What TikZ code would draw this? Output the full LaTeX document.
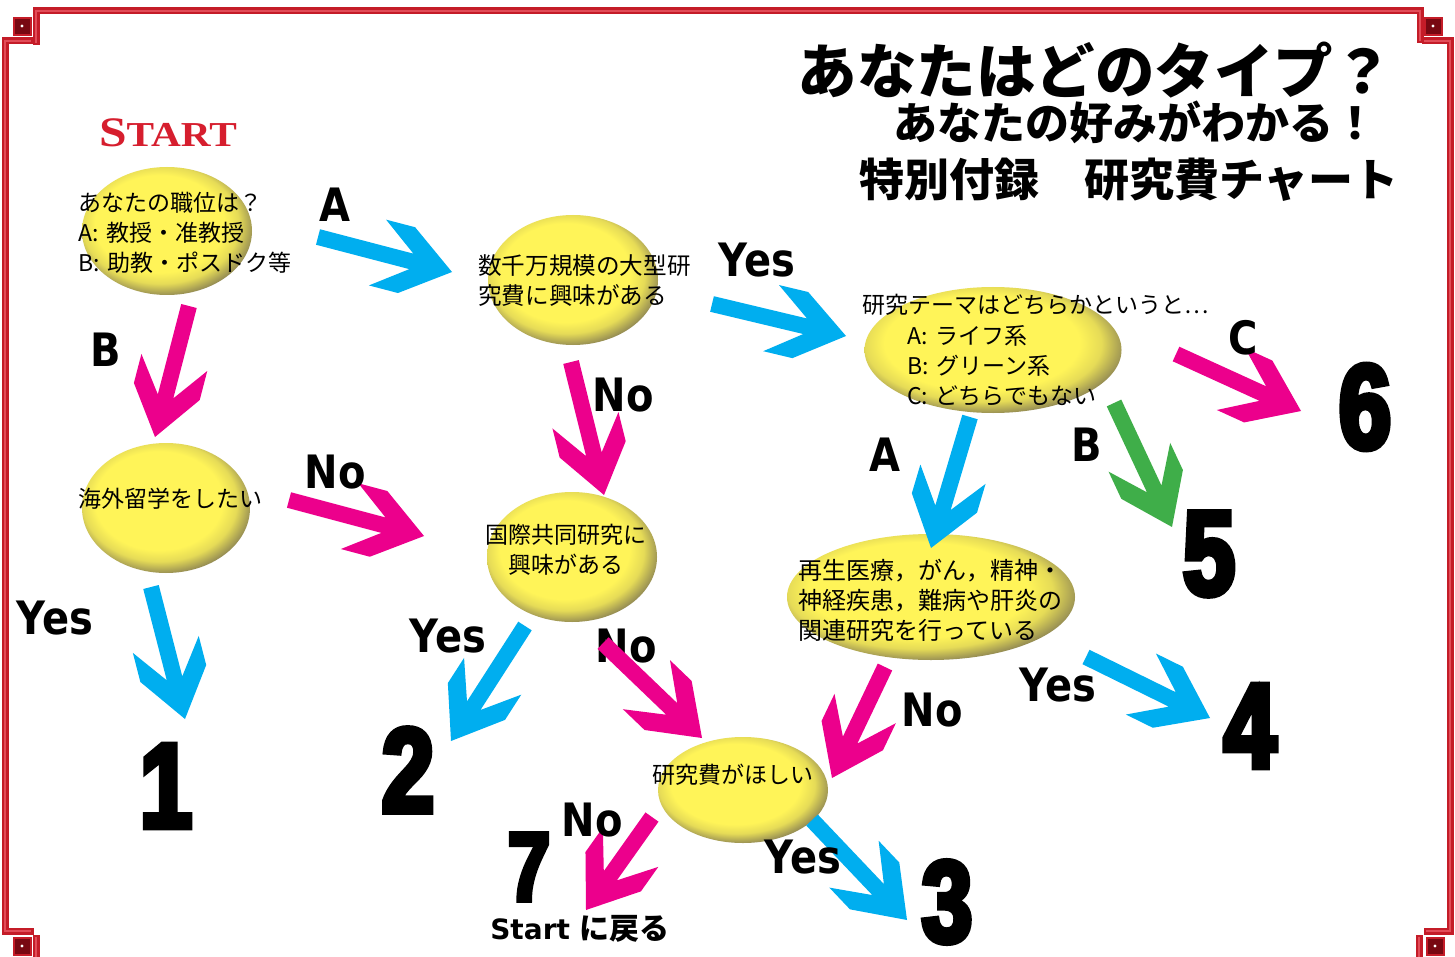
\documentclass[tikz,border=0pt]{standalone}
\usepackage{fontspec}
\newfontfamily\jp{Noto Sans CJK JP}
\newfontfamily\lbl{DejaVu Sans}[FakeStretch=0.87]
\newfontfamily\lblw{DejaVu Sans}
\newfontfamily\numf{Liberation Sans Bold}[FakeStretch=0.78,FakeBold=5]
\newfontfamily\startf{Liberation Serif}[FakeStretch=1.18]
\usetikzlibrary{shapes.geometric}
\definecolor{cyanA}{RGB}{0,174,239}
\definecolor{magA}{RGB}{236,0,140}
\definecolor{grnA}{RGB}{63,174,73}
\definecolor{frameR}{RGB}{196,28,40}
\definecolor{frameL}{RGB}{226,76,88}
\definecolor{frameD}{RGB}{120,8,18}
\definecolor{eggY}{RGB}{255,244,88}
\definecolor{eggL}{RGB}{255,250,190}
\definecolor{eggD}{RGB}{128,120,82}
\definecolor{startR}{RGB}{214,30,46}
\pgfdeclareradialshading{egg}{\pgfpoint{-3.5bp}{4.5bp}}{color(0bp)=(eggY); color(19bp)=(eggY); color(23bp)=(eggY!80!eggD); color(28.5bp)=(eggD); color(50bp)=(eggD)}
\newcommand\chev[3]{%
  \pgfpointanchor{#2}{center}\pgfgetlastxy{\chax}{\chay}%
  \pgfpointanchor{#3}{center}\pgfgetlastxy{\chbx}{\chby}%
  \pgfmathsetmacro\chang{atan2(\chby-\chay,\chbx-\chax)}%
  \pgfmathsetmacro\chlen{veclen(\chbx-\chax,\chby-\chay)}%
  \begin{scope}[shift={(\chbx,\chby)},rotate=\chang]
    \fill[#1] (0,0) -- (-47,34) -- (-77,34) -- (-42,8) -- (-\chlen,8) -- (-\chlen,-8) -- (-42,-8) -- (-77,-34) -- (-47,-34) -- cycle;
  \end{scope}}
\begin{document}
\begin{tikzpicture}[x=1pt,y=-1pt,
  framel/.style={draw=frameR,line width=2.6pt,double=frameL,double distance=1.8pt,line join=miter,line cap=rect},
  sq/.style={fill=frameD,draw=frameR,line width=1.5pt},
  egg/.style={ellipse,shading=egg,draw=none,inner sep=0},
  jt/.style={font=\jp\fontsize{23}{30}\selectfont,inner sep=0,align=left},
  lab/.style={font=\lbl\bfseries\fontsize{46}{46}\selectfont,inner sep=0},
  num/.style={font=\numf\fontsize{120}{120}\selectfont,inner sep=0},
  ttl/.style={font=\jp\bfseries,inner sep=0,anchor=east}]
\useasboundingbox (0,0) rectangle (1455,957);
\fill[white] (0,0) rectangle (1455,957);
% frame
\draw[framel] (36,42) -- (36,11) -- (1420,11) -- (1420,40);
\draw[framel] (30,41) -- (5,41) -- (5,931) -- (30,931);
\draw[framel] (1425,41) -- (1450,41) -- (1450,931) -- (1427,931);
\draw[framel] (36,938) -- (36,962);
\draw[framel] (1419,938) -- (1419,962);
\filldraw[sq] (14,18) rectangle (31,35);
\filldraw[sq] (1425,18) rectangle (1442,35);
\filldraw[sq] (14,938) rectangle (31,955);
\filldraw[sq] (1427,938) rectangle (1444,955);
\fill[white] (22,26) circle (1.6);
\fill[white] (1433,26) circle (1.6);
\fill[white] (22,946) circle (1.6);
\fill[white] (1435,946) circle (1.6);
% title
\node[ttl,font=\jp\bfseries\fontsize{59.5}{60}\selectfont] (title1) at (1393,70) {あなたはどのタイプ？};
\node[ttl,font=\jp\bfseries\fontsize{44}{44}\selectfont] (title2) at (1378,122) {あなたの好みがわかる！};
\node[ttl,font=\jp\bfseries\fontsize{45}{45}\selectfont] (title3) at (1399,180) {特別付録　研究費チャート};
% start
\node[inner sep=0,text=startR,font=\startf\bfseries] (start) at (168,133) {\fontsize{42}{42}\selectfont S\fontsize{35}{35}\selectfont TART};
% ellipses
\node[egg,minimum width=170pt,minimum height=128pt] (e1) at (167,231) {};
\node[egg,minimum width=170pt,minimum height=130pt] (e2) at (573,280) {};
\node[egg,minimum width=257pt,minimum height=126pt] (e3) at (993,350) {};
\node[egg,minimum width=168pt,minimum height=130pt] (e4) at (166,508) {};
\node[egg,minimum width=170pt,minimum height=130pt] (e5) at (572,557) {};
\node[egg,minimum width=288pt,minimum height=126pt] (e6) at (931,597) {};
\node[egg,minimum width=170pt,minimum height=106pt] (e7) at (743,790) {};
% ellipse texts
\node[jt,anchor=west] (t1) at (78,233) {あなたの職位は？\\A:\,\,教授・准教授\\B:\,\,助教・ポスドク等};
\node[jt,anchor=west,font=\jp\fontsize{23.6}{30}\selectfont] (t2) at (478,281) {数千万規模の大型研\\究費に興味がある};
\node[jt,anchor=west] (t3a) at (862,305) {研究テーマはどちらかというと…};
\node[jt,anchor=west] (t3b) at (907,366) {A:\,\,ライフ系\\B:\,\,グリーン系\\C:\,\,どちらでもない};
\node[jt,anchor=west] (t4) at (78,499) {海外留学をしたい};
\node[jt,align=center] (t5) at (566,550) {国際共同研究に\\興味がある};
\node[jt,anchor=west,font=\jp\fontsize{24}{30}\selectfont] (t6) at (798,600) {再生医療，がん，精神・\\神経疾患，難病や肝炎の\\関連研究を行っている};
\node[jt,anchor=west] (t7) at (652,775) {研究費がほしい};
% arrow end points
\coordinate (a1s) at (318,237); \coordinate (a1t) at (452,272);
\coordinate (b1s) at (189,306); \coordinate (b1t) at (155,437);
\coordinate (y2s) at (712,304); \coordinate (y2t) at (846,336);
\coordinate (n2s) at (571,362); \coordinate (n2t) at (604,495);
\coordinate (n4s) at (289,500); \coordinate (n4t) at (424,536);
\coordinate (y4s) at (151,587); \coordinate (y4t) at (185,719);
\coordinate (a3s) at (970,417); \coordinate (a3t) at (931,548);
\coordinate (b3s) at (1114,403); \coordinate (b3t) at (1172,527);
\coordinate (c3s) at (1176,354); \coordinate (c3t) at (1301,411);
\coordinate (y5s) at (525,626); \coordinate (y5t) at (451,741);
\coordinate (n5s) at (603,643); \coordinate (n5t) at (702,738);
\coordinate (y6s) at (1086,657); \coordinate (y6t) at (1210,718);
\coordinate (n6s) at (885,667); \coordinate (n6t) at (832,778);
\coordinate (n7s) at (652,817); \coordinate (n7t) at (586,910);
\coordinate (y7s) at (812,820); \coordinate (y7t) at (907,920);
\chev{cyanA}{a1s}{a1t}
\chev{magA}{b1s}{b1t}
\chev{cyanA}{y2s}{y2t}
\chev{magA}{n2s}{n2t}
\chev{magA}{n4s}{n4t}
\chev{cyanA}{y4s}{y4t}
\chev{cyanA}{a3s}{a3t}
\chev{grnA}{b3s}{b3t}
\chev{magA}{c3s}{c3t}
\chev{cyanA}{y5s}{y5t}
\chev{cyanA}{y6s}{y6t}
\chev{magA}{n6s}{n6t}
\chev{magA}{n7s}{n7t}
\chev{cyanA}{y7s}{y7t}
% labels
\node[lab] (lA1) at (335,205) {A};
\node[lab] (lB1) at (106,350) {B};
\node[lab] (lY2) at (757,260) {Yes};
\node[lab] (lN2) at (623,395) {No};
\node[lab] (lC3) at (1243,338) {C};
\node[lab] (lA3) at (885,455) {A};
\node[lab] (lB3) at (1087,445) {B};
\node[lab] (lN4) at (335,472) {No};
\node[lab] (lY4) at (55,618) {Yes};
\node[lab] (lY5) at (448,636) {Yes};
\node[lab] (lN5) at (626,646) {No};
\node[lab] (lY6) at (1058,685) {Yes};
\node[lab] (lN6) at (932,710) {No};
\node[lab] (lN7) at (592,820) {No};
\node[lab] (lY7) at (803,857) {Yes};
\chev{magA}{n5s}{n5t}
% numbers
\node[num] (n1) at (166,786) {1};
\node[num] (n2) at (408,770) {2};
\node[num,font=\numf\fontsize{116}{116}\selectfont] (n3) at (947,902) {3};
\node[num] (n4) at (1250,726) {4};
\node[num] (n5) at (1209,554) {5};
\node[num] (n6) at (1365,407) {6};
\node[num,font=\numf\fontsize{97}{97}\selectfont] (n7) at (529,867) {7};
\node[inner sep=0] (back) at (580,929) {\lblw\bfseries\fontsize{28}{28}\selectfont Start {\jp\bfseries\fontsize{30}{30}\selectfont に戻る}};
\end{tikzpicture}
\end{document}
